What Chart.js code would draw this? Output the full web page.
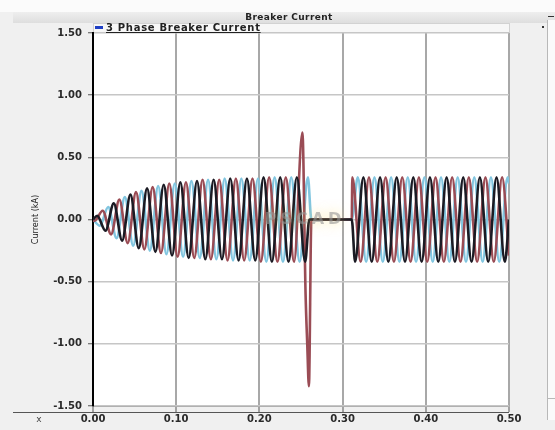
<!DOCTYPE html>
<html>
<head>
<meta charset="utf-8">
<title>Breaker Current</title>
<script src="https://cdn.jsdelivr.net/npm/chart.js@4.4.1/dist/chart.umd.min.js"></script>
<style>
  html, body { margin: 0; padding: 0; background: #f0f0f0; }
  #wrap { width: 555px; height: 430px; }
</style>
</head>
<body>
<div id="wrap"><canvas id="chart" width="555" height="430"></canvas></div>
<script>
// 3 phase breaker current, time in s, current in kA
// one point per half-cycle peak of each phase
const phaseATime = [0,
  0.005, 0.015, 0.025, 0.035, 0.045, 0.055, 0.065, 0.075, 0.085, 0.095,
  0.105, 0.115, 0.125, 0.135, 0.145, 0.155, 0.165, 0.175, 0.185, 0.195,
  0.205, 0.215, 0.225, 0.235, 0.245, 0.255,
  0.26, 0.311,
  0.315, 0.325, 0.335, 0.345, 0.355, 0.365, 0.375, 0.385, 0.395, 0.405,
  0.415, 0.425, 0.435, 0.445, 0.455, 0.465, 0.475, 0.485, 0.495,
  0.5];
const phaseAValue = [0,
  0.03, -0.09, 0.13, -0.17, 0.20, -0.23, 0.25, -0.26, 0.28, -0.29,
  0.30, -0.31, 0.31, -0.32, 0.32, -0.32, 0.33, -0.33, 0.33, -0.33,
  0.34, -0.34, 0.34, -0.34, 0.34, -0.34,
  0, 0,
  -0.34, 0.34, -0.34, 0.34, -0.34, 0.34, -0.34, 0.34, -0.34, 0.34,
  -0.34, 0.34, -0.34, 0.34, -0.34, 0.34, -0.34, 0.34, -0.34,
  0];

const phaseBTime = [0,
  0.0017, 0.0117, 0.0217, 0.0317, 0.0417, 0.0517, 0.0617, 0.0717, 0.0817, 0.0917,
  0.1017, 0.1117, 0.1217, 0.1317, 0.1417, 0.1517, 0.1617, 0.1717, 0.1817, 0.1917,
  0.2017, 0.2117, 0.2217, 0.2317, 0.2417,
  0.2517, 0.2555, 0.2575, 0.2595, 0.2625, 0.311,
  0.3117, 0.3217, 0.3317, 0.3417, 0.3517, 0.3617, 0.3717, 0.3817, 0.3917, 0.4017,
  0.4117, 0.4217, 0.4317, 0.4417, 0.4517, 0.4617, 0.4717, 0.4817, 0.4917,
  0.5];
const phaseBValue = [0,
  -0.01, 0.07, -0.12, 0.16, -0.19, 0.22, -0.24, 0.26, -0.27, 0.29,
  -0.30, 0.30, -0.31, 0.32, -0.32, 0.32, -0.33, 0.33, -0.33, 0.33,
  -0.34, 0.34, -0.34, 0.34, -0.34,
  0.70, -0.60, -1.00, -1.34, 0, 0,
  0.34, -0.34, 0.34, -0.34, 0.34, -0.34, 0.34, -0.34, 0.34, -0.34,
  0.34, -0.34, 0.34, -0.34, 0.34, -0.34, 0.34, -0.34, 0.34,
  -0.29];

const phaseCTime = [0,
  0.0083, 0.0183, 0.0283, 0.0383, 0.0483, 0.0583, 0.0683, 0.0783, 0.0883, 0.0983,
  0.1083, 0.1183, 0.1283, 0.1383, 0.1483, 0.1583, 0.1683, 0.1783, 0.1883, 0.1983,
  0.2083, 0.2183, 0.2283, 0.2383, 0.2483, 0.2583,
  0.2625, 0.311,
  0.3183, 0.3283, 0.3383, 0.3483, 0.3583, 0.3683, 0.3783, 0.3883, 0.3983, 0.4083,
  0.4183, 0.4283, 0.4383, 0.4483, 0.4583, 0.4683, 0.4783, 0.4883, 0.4983,
  0.5];
const phaseCValue = [0,
  -0.05, 0.10, -0.15, 0.18, -0.21, 0.23, -0.25, 0.27, -0.28, 0.29,
  -0.30, 0.31, -0.31, 0.32, -0.32, 0.33, -0.33, 0.33, -0.33, 0.33,
  -0.34, 0.34, -0.34, 0.34, -0.34, 0.34,
  0, 0,
  0.34, -0.34, 0.34, -0.34, 0.34, -0.34, 0.34, -0.34, 0.34, -0.34,
  0.34, -0.34, 0.34, -0.34, 0.34, -0.34, 0.34, -0.34, 0.34,
  0.29];

const xTicks = [0, 0.1, 0.2, 0.3, 0.4, 0.5];
const yTicks = [-1.5, -1.0, -0.5, 0, 0.5, 1.0, 1.5];

function points(times, values) {
  return times.map((t, i) => ({ x: t, y: values[i] }));
}

function phase(label, times, values, color) {
  return {
    label: label,
    data: points(times, values),
    borderColor: color,
    borderWidth: 2.6,
    pointRadius: 0,
    cubicInterpolationMode: 'monotone',
    fill: false
  };
}

// PSCAD style frame: header, legend strip, watermark, separate x bar
const pscadFrame = {
  id: 'pscadFrame',
  beforeDraw(chart) {
    const { ctx, chartArea: a, width, height } = chart;
    ctx.save();
    ctx.fillStyle = '#f0f0f0';
    ctx.fillRect(0, 0, width, height);
    ctx.fillStyle = '#fbfbfb';
    ctx.fillRect(0, 0, width, 12);
    const g = ctx.createLinearGradient(0, 12, 0, 23);
    g.addColorStop(0, '#eeeeee');
    g.addColorStop(1, '#dedede');
    ctx.fillStyle = g;
    ctx.fillRect(13, 12, width - 13, 11);
    ctx.fillStyle = '#f7f7f7';
    ctx.fillRect(a.left, 23, a.right - a.left, a.top - 23);
    ctx.strokeStyle = '#d2d2d2';
    ctx.lineWidth = 1;
    ctx.strokeRect(a.left + 0.5, 23.5, a.right - a.left, a.top - 23);
    ctx.fillStyle = '#ffffff';
    ctx.fillRect(a.left, a.top, a.right - a.left, a.bottom - a.top);
    // side panel on the right
    ctx.fillStyle = '#fafafa';
    ctx.fillRect(548, 20, width - 548, 400);
    ctx.strokeStyle = '#b8b8b8';
    ctx.beginPath();
    ctx.moveTo(547.5, 20);
    ctx.lineTo(547.5, 420);
    ctx.moveTo(548, 398.5);
    ctx.lineTo(width, 398.5);
    ctx.stroke();
    ctx.fillStyle = '#333';
    ctx.fillRect(542, 26, 2, 2);
    ctx.fillRect(548, 16, 6, 1);
    ctx.restore();
  },
  afterDatasetsDraw(chart) {
    const { ctx, scales } = chart;
    const cx = scales.x.getPixelForValue(0.25);
    const cy = scales.y.getPixelForValue(0);
    ctx.save();
    ctx.font = 'bold 16px "DejaVu Sans"';
    ctx.letterSpacing = '4px';
    ctx.textAlign = 'center';
    ctx.textBaseline = 'middle';
    ctx.shadowColor = 'rgba(255, 220, 100, 0.95)';
    ctx.shadowBlur = 12;
    ctx.fillStyle = 'rgba(150, 150, 150, 0.6)';
    ctx.fillText('PSCAD', cx + 4, cy);
    ctx.restore();
  },
  afterDraw(chart) {
    const { ctx, chartArea: a } = chart;
    ctx.save();
    // title
    ctx.fillStyle = '#222';
    ctx.font = 'bold 9px "DejaVu Sans"';
    ctx.letterSpacing = '0.4px';
    ctx.textAlign = 'center';
    ctx.textBaseline = 'alphabetic';
    ctx.fillText('Breaker Current', 289, 20);
    // legend
    ctx.fillStyle = '#1f3fc4';
    ctx.fillRect(a.left + 2, 26, 8, 3);
    ctx.fillStyle = '#222';
    ctx.font = 'bold 10px "DejaVu Sans"';
    ctx.letterSpacing = '0.7px';
    ctx.textAlign = 'left';
    const txt = '3 Phase Breaker Current';
    const tx = a.left + 13;
    ctx.fillText(txt, tx, 31);
    const w = ctx.measureText(txt).width;
    ctx.fillRect(tx, 32, w, 1);
    // x bar
    ctx.letterSpacing = '0px';
    ctx.strokeStyle = '#555';
    ctx.lineWidth = 1;
    ctx.beginPath();
    ctx.moveTo(13, 412.5);
    ctx.lineTo(a.right, 412.5);
    ctx.stroke();
    ctx.font = '9px "DejaVu Sans"';
    ctx.fillStyle = '#444';
    ctx.textAlign = 'center';
    ctx.fillText('x', 39, 422);
    ctx.restore();
  }
};

const ctx = document.getElementById('chart');
new Chart(ctx, {
  type: 'line',
  data: {
    datasets: [
      phase('Ia', phaseATime, phaseAValue, '#1b1b24'),
      phase('Ib', phaseBTime, phaseBValue, '#9a4c55'),
      phase('Ic', phaseCTime, phaseCValue, '#82c6e0')
    ]
  },
  options: {
    responsive: false,
    animation: false,
    events: [],
    layout: { padding: { top: 33, right: 46, left: 0, bottom: 0 } },
    plugins: {
      legend: { display: false },
      title: { display: false },
      tooltip: { enabled: false }
    },
    scales: {
      x: {
        type: 'linear',
        min: xTicks[0],
        max: xTicks[xTicks.length - 1],
        afterFit(scale) { scale.height = 24; },
        afterBuildTicks(scale) { scale.ticks = xTicks.map(v => ({ value: v })); },
        ticks: {
          padding: 1,
          maxRotation: 0,
          color: '#2a2a2a',
          font: { family: 'DejaVu Sans', size: 10, weight: 'bold' },
          callback: v => v.toFixed(2)
        },
        grid: { color: '#a8a8a8', lineWidth: 2, tickLength: 6, tickColor: '#555', tickWidth: 1 },
        border: { color: '#b0b0b0', width: 1 }
      },
      y: {
        min: yTicks[0],
        max: yTicks[yTicks.length - 1],
        afterFit(scale) { scale.width = 93; },
        afterBuildTicks(scale) { scale.ticks = yTicks.map(v => ({ value: v })); },
        title: {
          display: true,
          text: 'Current (kA)',
          color: '#222',
          font: { family: "'Liberation Sans Narrow', 'DejaVu Sans Condensed', 'Liberation Sans', sans-serif", size: 9 },
          padding: { top: 30, bottom: 0 }
        },
        ticks: {
          padding: 6,
          color: '#2a2a2a',
          font: { family: 'DejaVu Sans', size: 10, weight: 'bold' },
          callback: v => v.toFixed(2)
        },
        grid: { color: '#c6c6c6', lineWidth: 1.5, tickLength: 5, tickColor: '#555', tickWidth: 1 },
        border: { color: '#000', width: 2 }
      }
    }
  },
  plugins: [pscadFrame]
});
</script>
</body>
</html>
